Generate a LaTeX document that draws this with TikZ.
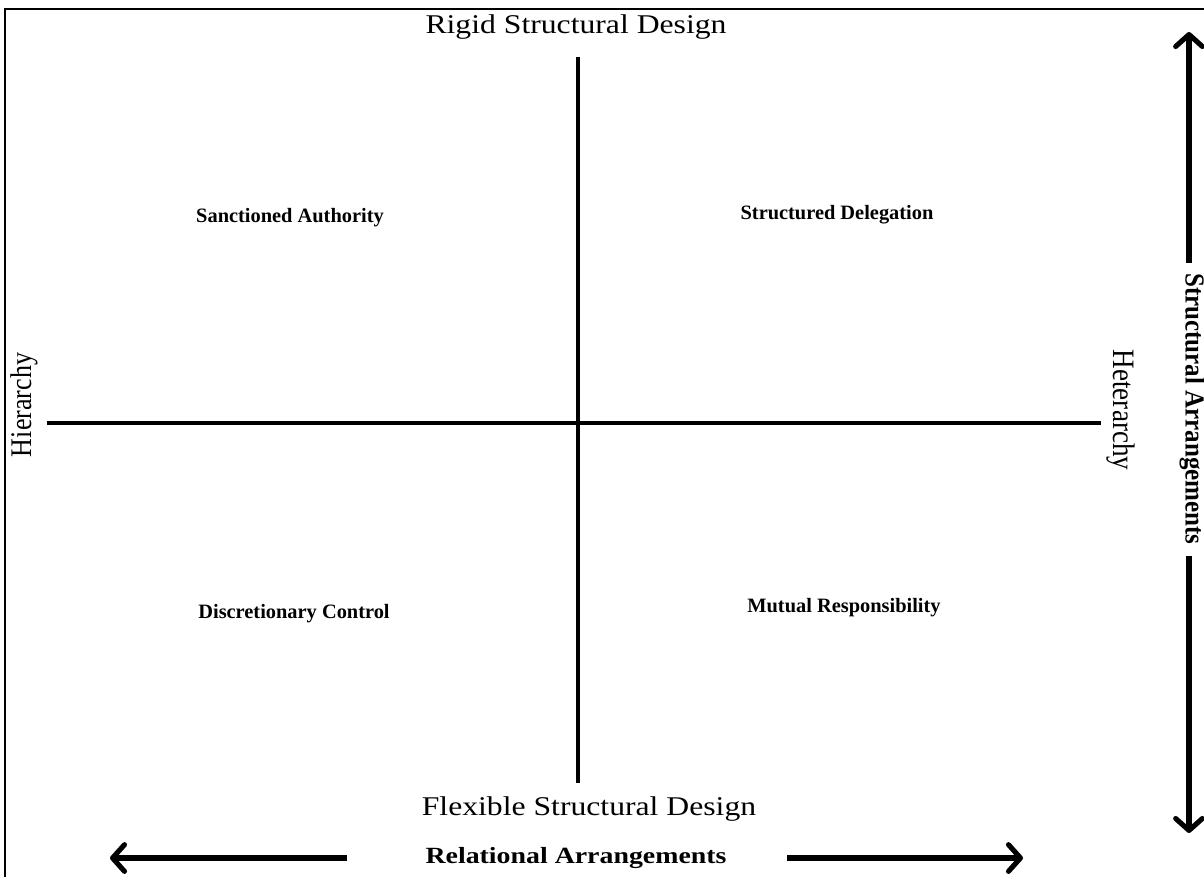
\documentclass[tikz,border=0pt]{standalone}
\usepackage{fontspec}
\setmainfont{Liberation Serif}
\usepackage{tikz}
\usetikzlibrary{arrows.meta}

\begin{document}
\begin{tikzpicture}[x=0.01cm,y=-0.01cm,
  axis/.style={line width=1.4pt},
  arr/.style={line width=1.45pt,-{Straight Barb[length=3.4pt,width=7.6pt,line cap=round,line join=round]}},
  title/.style={font=\fontsize{7.7}{9}\selectfont,xscale=1.17,anchor=base,inner sep=0pt},
  quad/.style={font=\fontsize{5.8}{7}\selectfont\bfseries,anchor=base,inner sep=0pt},
  side/.style={font=\fontsize{7.4}{9}\selectfont,inner sep=0pt}]
  \useasboundingbox (0,0) rectangle (1204,877);
  \draw[line width=0.6pt] (5,877) -- (5,9) -- (1204,9);
  % axes
  \coordinate (A-N) at (578,57);
  \coordinate (A-S) at (578,783);
  \coordinate (A-W) at (47,423);
  \coordinate (A-E) at (1101,423);
  \draw[axis] (A-N) -- (A-S);
  \draw[axis] (A-W) -- (A-E);
  % axis ends
  \node[title] (rigid) at (576,34) {Rigid Structural Design};
  \node[title] (flex) at (589,815) {Flexible Structural Design};
  \node[side,rotate=90,yscale=1.15] (hier) at (24,405) {Hierarchy};
  \node[side,rotate=-90,yscale=1.15,font=\fontsize{7.7}{9}\selectfont] (heter) at (1121,410) {Heterarchy};
  % quadrants
  \node[quad] (Q-1) at (290,223) {Sanctioned Authority};
  \node[quad] (Q-2) at (837,220) {Structured Delegation};
  \node[quad] (Q-3) at (294,618) {Discretionary Control};
  \node[quad] (Q-4) at (844,612) {Mutual Responsibility};
  % outer arrows
  \node[font=\fontsize{6.6}{8}\selectfont\bfseries,xscale=1.2,anchor=base,inner sep=0pt] (rel) at (576,863) {Relational Arrangements};
  \coordinate (rel-L) at (347,858);
  \coordinate (rel-LT) at (110,858);
  \coordinate (rel-R) at (787,858);
  \coordinate (rel-RT) at (1023,858);
  \draw[arr] (rel-L) -- (rel-LT);
  \draw[arr] (rel-R) -- (rel-RT);
  \node[font=\fontsize{7.1}{9}\selectfont\bfseries,rotate=-90,yscale=1.1,inner sep=0pt] (str) at (1192,409) {Structural Arrangements};
  \coordinate (str-T) at (1189,263);
  \coordinate (str-TT) at (1189,32);
  \coordinate (str-B) at (1189,556);
  \coordinate (str-BT) at (1189,833);
  \draw[arr] (str-T) -- (str-TT);
  \draw[arr] (str-B) -- (str-BT);
\end{tikzpicture}
\end{document}
